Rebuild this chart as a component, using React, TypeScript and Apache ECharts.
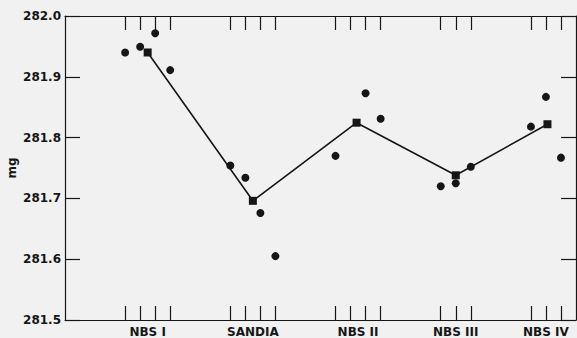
import React, { useEffect, useRef } from "react";
import * as echarts from "echarts";

// Measurement slots (x positions) and values (mg) per standard
const groupNames = ["NBS I", "SANDIA", "NBS II", "NBS III", "NBS IV"];
const groupCenters = [5.5, 12.5, 19.5, 26, 32];
const tickSlots = [4, 5, 6, 7, 11, 12, 13, 14, 18, 19, 20, 21, 25, 26, 27, 31, 32, 33];

const nbs1X = [4, 5, 6, 7];
const nbs1Y = [281.94, 281.9495, 281.9715, 281.911];
const sandiaX = [11, 12, 13, 14];
const sandiaY = [281.754, 281.734, 281.676, 281.605];
const nbs2X = [18, 20, 21];
const nbs2Y = [281.77, 281.873, 281.831];
const nbs3X = [25, 26, 27];
const nbs3Y = [281.72, 281.725, 281.752];
const nbs4X = [31, 32, 33];
const nbs4Y = [281.818, 281.867, 281.767];

const meanX = [5.5, 12.5, 19.4, 26, 32.1];
const meanY = [281.94, 281.696, 281.8245, 281.738, 281.822];

const INK = "#161616";
const BG = "#f1f1f1";
const FONT = "DejaVu Sans";

export default function App() {
  const ref = useRef<HTMLDivElement>(null);
  useEffect(() => {
    document.body.style.margin = "0";
    if (!ref.current) return;
    const chart = echarts.init(ref.current, null, { renderer: "svg" });
    const pts: number[][] = [];
    const xs = [nbs1X, sandiaX, nbs2X, nbs3X, nbs4X];
    const ys = [nbs1Y, sandiaY, nbs2Y, nbs3Y, nbs4Y];
    xs.forEach((arr, g) => arr.forEach((x, i) => pts.push([x, ys[g][i]])));
    const means = meanX.map((x, i) => [x, meanY[i]]);

    const xBase = {
      type: "value" as const,
      min: 0,
      max: 34,
      splitLine: { show: false },
      axisLine: { show: true, onZero: false, lineStyle: { color: INK, width: 1.2 } },
      axisTick: {
        show: true,
        inside: true,
        length: 14,
        customValues: tickSlots,
        lineStyle: { color: INK, width: 1.2 },
      },
    };
    const yBase = {
      type: "value" as const,
      min: 281.5,
      max: 282.0,
      interval: 0.1,
      splitLine: { show: false },
      axisLine: { show: true, onZero: false, lineStyle: { color: INK, width: 1.2 } },
      axisTick: { show: true, inside: true, length: 15, lineStyle: { color: INK, width: 1.2 } },
    };

    chart.setOption({
      animation: false,
      backgroundColor: BG,
      grid: { left: 65, right: 1, top: 16, bottom: 18, containLabel: false, outerBoundsMode: "none" },
      xAxis: [
        {
          ...xBase,
          position: "bottom",
          axisLabel: {
            show: true,
            customValues: groupCenters,
            margin: 6,
            color: INK,
            fontFamily: FONT,
            fontWeight: "bold",
            fontSize: 12,
            formatter: (v: number) => {
              const i = groupCenters.indexOf(v);
              return i >= 0 ? groupNames[i] : "";
            },
          },
        },
        { ...xBase, position: "top", axisLabel: { show: false } },
      ],
      yAxis: [
        {
          ...yBase,
          position: "left",
          name: "mg",
          nameLocation: "middle",
          nameGap: 47,
          nameMoveOverlap: false,
          nameTextStyle: { color: INK, fontFamily: FONT, fontWeight: "bold", fontSize: 12 },
          axisLabel: {
            show: true,
            margin: 4,
            color: INK,
            fontFamily: FONT,
            fontWeight: "bold",
            fontSize: 12,
            formatter: (v: number) => v.toFixed(1),
          },
        },
        { ...yBase, position: "right", axisLabel: { show: false } },
      ],
      series: [
        {
          type: "line",
          data: means,
          symbol: "rect",
          symbolSize: 8,
          itemStyle: { color: INK, opacity: 1 },
          lineStyle: { color: INK, width: 1.6 },
          z: 3,
        },
        {
          type: "scatter",
          data: pts,
          symbol: "circle",
          symbolSize: 8,
          itemStyle: { color: INK, opacity: 1 },
          z: 4,
        },
      ],
    });
    return () => chart.dispose();
  }, []);
  return (
    <div
      ref={ref}
      style={{ width: 577, height: 338, position: "absolute", left: 0, top: 0, background: BG }}
    />
  );
}
